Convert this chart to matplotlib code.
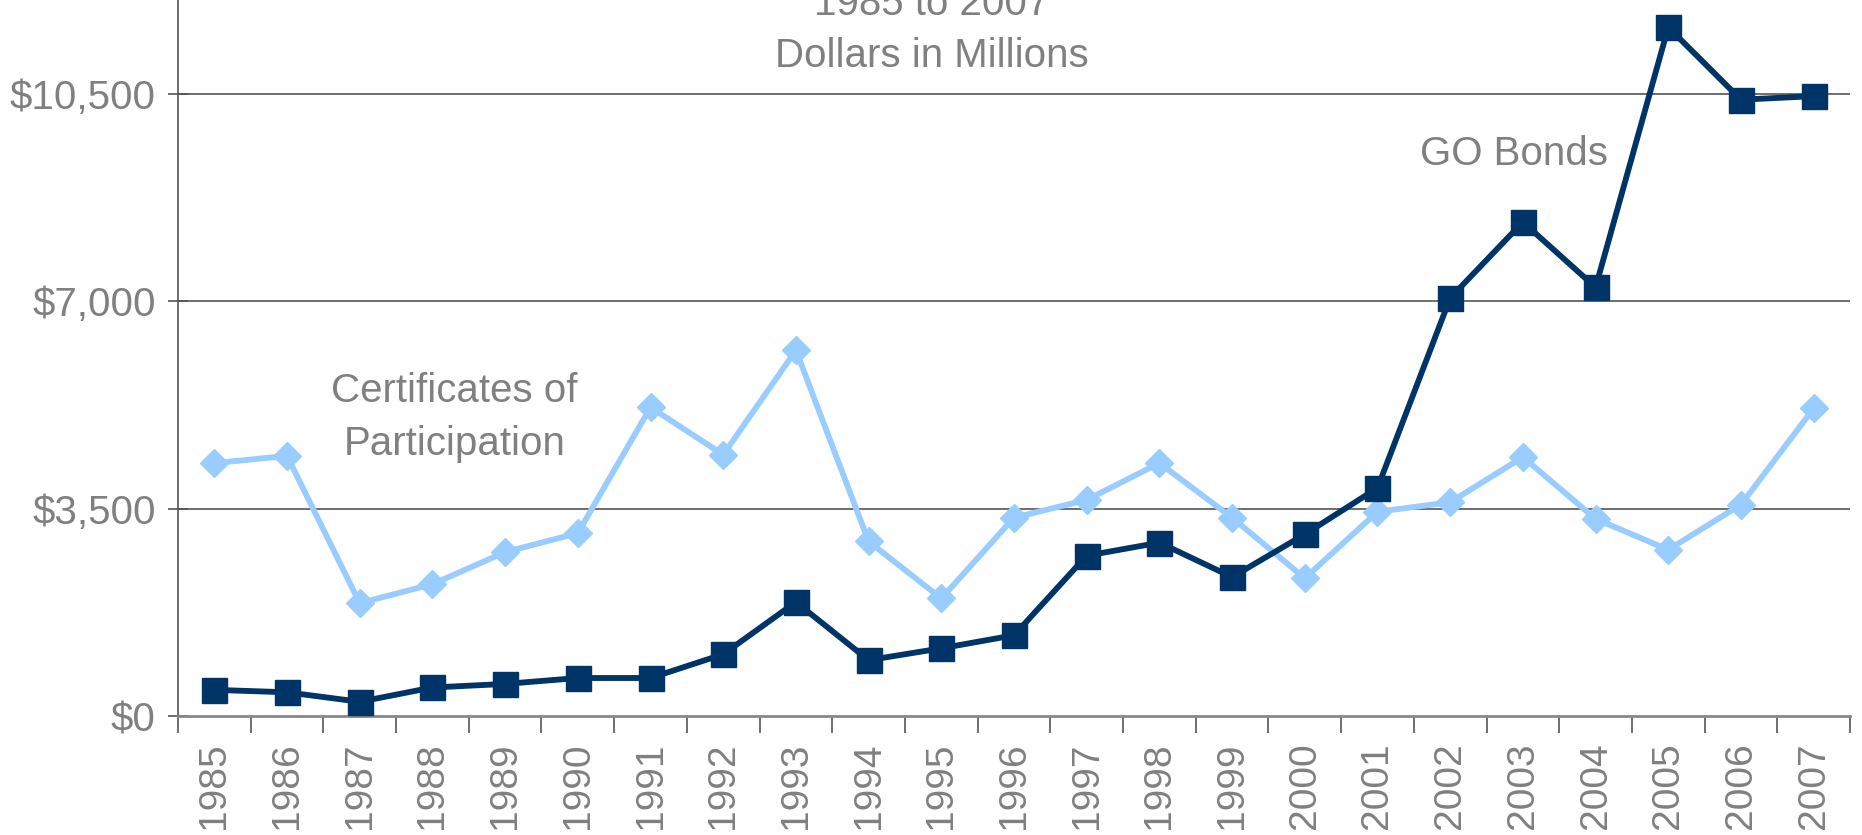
import matplotlib
matplotlib.use("Agg")
import matplotlib.pyplot as plt
import numpy as np

# Données (millions de dollars)
annees = [str(a) for a in range(1985, 2008)]
go_bonds = [441, 400, 240, 481, 541, 641, 641, 1042, 1923, 942, 1142, 1362,
            2705, 2925, 2344, 3065, 3847, 7052, 8334, 7232, 11620, 10398, 10458]
certificats = [4267, 4388, 1903, 2224, 2765, 3085, 5209, 4408, 6171, 2945, 1983, 3346,
               3646, 4267, 3346, 2324, 3446, 3606, 4368, 3326, 2805, 3566, 5189]
graduations_y = [0, 3500, 7000, 10500]
etiquettes_y = ["$0", "$3,500", "$7,000", "$10,500"]

GRIS = "#808080"
MARINE = "#003366"
BLEU_CLAIR = "#99CCFF"

plt.rcParams['font.family'] = ['Liberation Sans', 'DejaVu Sans']

fig = plt.figure(figsize=(18.62, 8.35), dpi=100)
ax = fig.add_axes([178 / 1862, 1 - 716 / 835, (1850 - 178) / 1862, 716 / 835])

x = np.arange(len(annees))
ax.plot(x, certificats, color=BLEU_CLAIR, lw=4.2, marker="D", markersize=14,
        markeredgecolor=BLEU_CLAIR, zorder=3)
ax.plot(x, go_bonds, color=MARINE, lw=4.2, marker="s", markersize=18,
        markeredgecolor=MARINE, zorder=4)

ax.set_xlim(-0.5, len(annees) - 0.5)
ax.set_ylim(0, 12080)

# Grille horizontale
for g in graduations_y[1:]:
    ax.axhline(g, color="#555555", lw=1.2, zorder=1)

ax.set_yticks(graduations_y)
ax.set_yticklabels(etiquettes_y)
ax.tick_params(axis="y", direction="inout", length=14, width=1.2, color="#555555",
               labelsize=29, labelcolor=GRIS, pad=9)

ax.set_xticks(x)
ax.set_xticklabels(annees, rotation=90)
ax.tick_params(axis="x", which="major", length=0, labelsize=28, labelcolor=GRIS, pad=19)
ax.set_xticks(np.arange(-0.5, len(annees)), minor=True)
ax.tick_params(axis="x", which="minor", direction="out", length=12, width=1.2, color="#555555")

for s in ["top", "right"]:
    ax.spines[s].set_visible(False)
ax.spines["left"].set_color("#555555")
ax.spines["bottom"].set_color("#888888")
ax.spines["left"].set_linewidth(1.2)
ax.spines["bottom"].set_linewidth(2)

# Titres et annotations (le titre est coupé en haut dans l'original)
fig.text(932 / 1862, 1 - 4 / 835, "1985 to 2007", ha="center", va="center",
         fontsize=29, color=GRIS)
fig.text(932 / 1862, 1 - 56 / 835, "Dollars in Millions", ha="center", va="center",
         fontsize=29, color=GRIS)
ax.text(3.3, 5030, "Certificates of\nParticipation", ha="center", va="center",
        fontsize=29, color=GRIS, linespacing=1.5)
ax.text(17.88, 9476, "GO Bonds", ha="center", va="center", fontsize=29, color=GRIS)

fig.savefig("out.png", dpi=100)
